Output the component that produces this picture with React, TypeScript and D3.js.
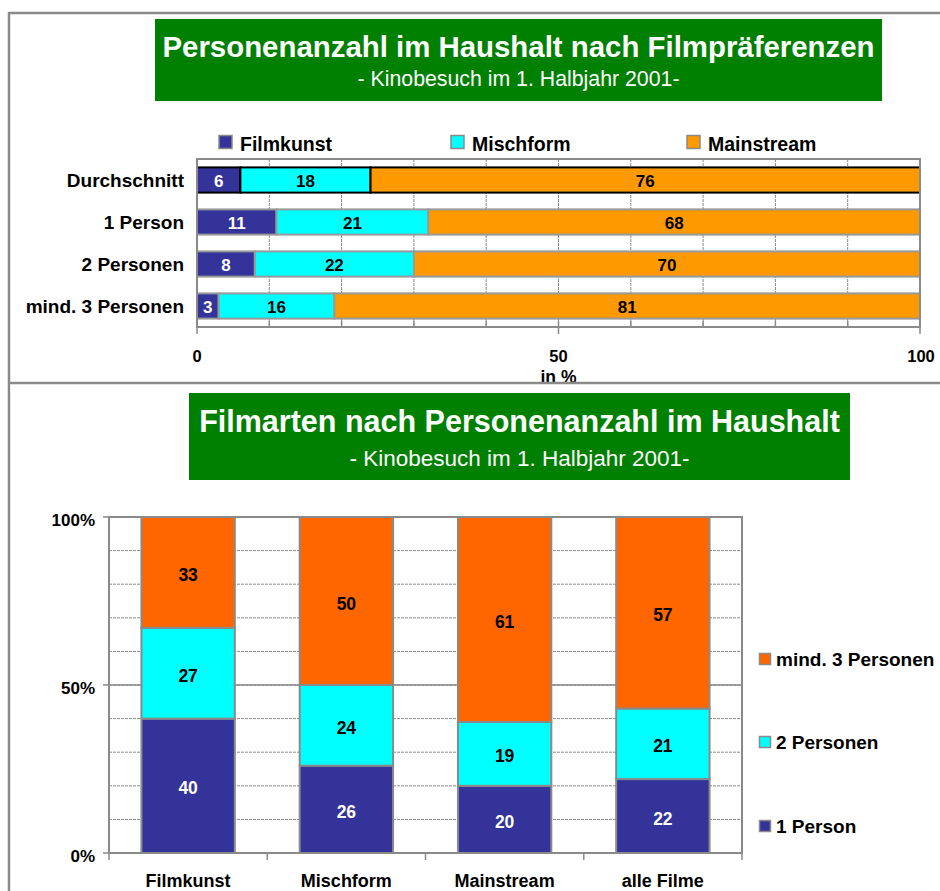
import React from "react";
import * as d3 from "d3";

// ---------- Data ----------
const topCategories = ["Durchschnitt", "1 Person", "2 Personen", "mind. 3 Personen"];
const topSeriesNames = ["Filmkunst", "Mischform", "Mainstream"];
const topFilmkunst = [6, 11, 8, 3];
const topMischform = [18, 21, 22, 16];
const topMainstream = [76, 68, 70, 81];
const topTicks = [0, 50, 100];

const bottomCategories = ["Filmkunst", "Mischform", "Mainstream", "alle Filme"];
const bottomSeriesNames = ["1 Person", "2 Personen", "mind. 3 Personen"];
const bottom1Person = [40, 26, 20, 22];
const bottom2Personen = [27, 24, 19, 21];
const bottom3Personen = [33, 50, 61, 57];
const bottomTicks = [0, 50, 100];

const topColors = ["#333399", "#00FFFF", "#FF9900"];
const bottomColors = ["#333399", "#00FFFF", "#FF6600"];
const labelColors = ["#FFFFFF", "#000000", "#000000"];

const FONT = "'Liberation Sans', Arial, Helvetica, sans-serif";
const GREY = "#8a8a8a";

export default function App() {
  // ---------- Top chart ----------
  const topSeries = [topFilmkunst, topMischform, topMainstream];
  const topRows = topCategories.map((c, i) => {
    const row: any = { cat: c };
    topSeriesNames.forEach((s, k) => (row[s] = topSeries[k][i]));
    return row;
  });
  const topStack = d3.stack<any>().keys(topSeriesNames)(topRows);
  const xTop = d3.scaleLinear().domain([0, 100]).range([197, 920]);
  const yTop = d3.scaleBand().domain(topCategories).range([159, 327]).paddingInner(0.4).paddingOuter(0.2);
  const topGrid = d3.range(10, 100, 10);
  const topLegendX = [219, 451, 687];

  // ---------- Bottom chart ----------
  const bottomSeries = [bottom1Person, bottom2Personen, bottom3Personen];
  const bottomRows = bottomCategories.map((c, i) => {
    const row: any = { cat: c };
    bottomSeriesNames.forEach((s, k) => (row[s] = bottomSeries[k][i]));
    return row;
  });
  const bottomStack = d3.stack<any>().keys(bottomSeriesNames)(bottomRows);
  const xBot = d3.scaleBand().domain(bottomCategories).range([109, 742]).paddingInner(0.41).paddingOuter(0.205);
  const xBotOuter = d3.scaleBand().domain(bottomCategories).range([109, 742]);
  const yBot = d3.scaleLinear().domain([0, 100]).range([853, 517]);
  const botGrid = d3.range(10, 100, 10);

  const legendBottomY = [826, 742, 659];

  return (
    <svg
      width={940}
      height={891}
      style={{ position: "absolute", left: 0, top: 0, display: "block", background: "#fff" }}
      fontFamily={FONT}
    >
      <rect x={0} y={0} width={940} height={891} fill="#fff" />

      {/* ===== Top chart ===== */}
      <rect x={155} y={19} width={727} height={82} fill="#008000" />
      <text x={518.5} y={57} textAnchor="middle" fill="#fff" fontWeight="bold" fontSize={29.4}>
        Personenanzahl im Haushalt nach Filmpräferenzen
      </text>
      <text x={518.5} y={86} textAnchor="middle" fill="#fff" fontSize={21.3}>
        - Kinobesuch im 1. Halbjahr 2001-
      </text>

      {/* legend */}
      {topSeriesNames.map((s, k) => {
        const lx = topLegendX[k];
        return (
          <g key={s}>
            <rect x={lx} y={135.5} width={13} height={13} fill={topColors[k]} stroke={GREY} strokeWidth={1.5} />
            <text x={lx + 21} y={150.5} fontWeight="bold" fontSize={19.5} fill="#000">
              {s}
            </text>
          </g>
        );
      })}

      {/* gridlines */}
      {topGrid.map((t) => (
        <line key={t} x1={xTop(t)} x2={xTop(t)} y1={159} y2={327} stroke={GREY} strokeWidth={1} strokeDasharray="3,1" />
      ))}
      {topGrid.map((t) => (
        <line key={"m" + t} x1={xTop(t)} x2={xTop(t)} y1={321} y2={327} stroke={GREY} strokeWidth={1.5} />
      ))}

      {/* bars */}
      {topStack.map((layer, k) => (
        <g key={layer.key}>
          {layer.map((d, i) => {
            const x0 = xTop(d[0]);
            const x1 = xTop(d[1]);
            const y = yTop(topCategories[i])!;
            const h = yTop.bandwidth();
            return (
              <rect key={i} x={x0} y={y} width={x1 - x0} height={h} fill={topColors[k]} stroke={i === 0 ? "#000" : "#999"} strokeWidth={2} />
            );
          })}
        </g>
      ))}
      {topStack.map((layer, k) => (
        <g key={"l" + layer.key}>
          {layer.map((d, i) => (
            <text
              key={i}
              x={(xTop(d[0]) + xTop(d[1])) / 2}
              y={yTop(topCategories[i])! + yTop.bandwidth() / 2 + 6.5}
              textAnchor="middle"
              fontWeight="bold"
              fontSize={17}
              fill={labelColors[k]}
            >
              {topSeries[k][i]}
            </text>
          ))}
        </g>
      ))}

      {/* frame of plot */}
      <rect x={197} y={159} width={723} height={168} fill="none" stroke={GREY} strokeWidth={2} />
      {topTicks.map((t) => (
        <g key={t}>
          <line x1={xTop(t)} x2={xTop(t)} y1={327} y2={334} stroke={GREY} strokeWidth={1.5} />
          <text x={xTop(t) + (t === 100 ? 1 : 0)} y={362} textAnchor="middle" fontWeight="bold" fontSize={16.5}>
            {t}
          </text>
        </g>
      ))}
      <text x={xTop(50)} y={383} textAnchor="middle" fontWeight="bold" fontSize={17.5}>
        in %
      </text>

      {/* category labels */}
      {topCategories.map((c) => (
        <text key={c} x={184} y={yTop(c)! + yTop.bandwidth() / 2 + 7} textAnchor="end" fontWeight="bold" fontSize={19}>
          {c}
        </text>
      ))}

      {/* ===== Frame lines ===== */}
      <line x1={9} x2={940} y1={13} y2={13} stroke={GREY} strokeWidth={2.5} />
      <line x1={9} x2={9} y1={12} y2={891} stroke={GREY} strokeWidth={2.5} />
      <rect x={10.5} y={384} width={930} height={8} fill="#fff" />
      <line x1={9} x2={940} y1={383} y2={383} stroke={GREY} strokeWidth={2.5} />

      {/* ===== Bottom chart ===== */}
      <rect x={189} y={393} width={661} height={87} fill="#008000" />
      <text x={519.5} y={432} textAnchor="middle" fill="#fff" fontWeight="bold" fontSize={30.5}>
        Filmarten nach Personenanzahl im Haushalt
      </text>
      <text x={519.5} y={466} textAnchor="middle" fill="#fff" fontSize={22.5}>
        - Kinobesuch im 1. Halbjahr 2001-
      </text>

      {/* gridlines */}
      {botGrid.map((t) => (
        <line key={t} x1={109} x2={742} y1={yBot(t)} y2={yBot(t)} stroke={GREY} strokeWidth={1} strokeDasharray="3,1" />
      ))}
      <line x1={109} x2={742} y1={yBot(50)} y2={yBot(50)} stroke={GREY} strokeWidth={1.5} />

      {/* bars */}
      {bottomStack.map((layer, k) => (
        <g key={layer.key}>
          {layer.map((d, i) => (
            <rect
              key={i}
              x={xBot(bottomCategories[i])!}
              y={yBot(d[1])}
              width={xBot.bandwidth()}
              height={yBot(d[0]) - yBot(d[1])}
              fill={bottomColors[k]}
              stroke={GREY}
              strokeWidth={2}
            />
          ))}
        </g>
      ))}
      {bottomStack.map((layer, k) => (
        <g key={"l" + layer.key}>
          {layer.map((d, i) => (
            <text
              key={i}
              x={xBot(bottomCategories[i])! + xBot.bandwidth() / 2}
              y={(yBot(d[0]) + yBot(d[1])) / 2 + 8.5}
              textAnchor="middle"
              fontWeight="bold"
              fontSize={17.5}
              fill={labelColors[k]}
            >
              {bottomSeries[k][i]}
            </text>
          ))}
        </g>
      ))}

      {/* plot frame */}
      <rect x={109} y={517} width={633} height={336} fill="none" stroke={GREY} strokeWidth={2} />

      {/* y axis ticks */}
      {bottomTicks.map((t) => (
        <g key={t}>
          <line x1={103} x2={109} y1={yBot(t)} y2={yBot(t)} stroke={GREY} strokeWidth={1.5} />
          <text x={95} y={yBot(t) + 9} textAnchor="end" fontWeight="bold" fontSize={17}>
            {t}%
          </text>
        </g>
      ))}
      {/* x axis ticks */}
      {bottomCategories.map((c) => (
        <line key={c} x1={xBotOuter(c)!} x2={xBotOuter(c)!} y1={853} y2={860} stroke={GREY} strokeWidth={1.5} />
      ))}
      <line x1={742} x2={742} y1={853} y2={860} stroke={GREY} strokeWidth={1.5} />
      {bottomCategories.map((c) => (
        <text key={"t" + c} x={xBot(c)! + xBot.bandwidth() / 2} y={887} textAnchor="middle" fontWeight="bold" fontSize={18}>
          {c}
        </text>
      ))}

      {/* legend */}
      {bottomSeriesNames.map((s, k) => (
        <g key={s}>
          <rect x={759.5} y={legendBottomY[k] - 5.5} width={11} height={11} fill={bottomColors[k]} stroke={GREY} strokeWidth={1.5} />
          <text x={776} y={legendBottomY[k] + 6.5} fontWeight="bold" fontSize={19}>
            {s}
          </text>
        </g>
      ))}
    </svg>
  );
}
